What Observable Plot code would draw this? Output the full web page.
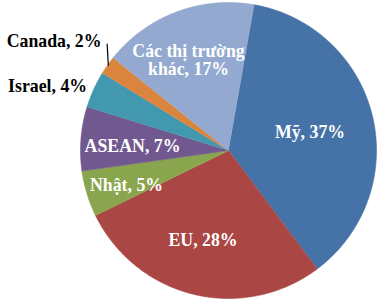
<!DOCTYPE html>
<html><head><meta charset="utf-8">
<script src="https://cdn.jsdelivr.net/npm/d3@7"></script>
<script src="https://cdn.jsdelivr.net/npm/@observablehq/plot@0.6"></script>
<style>
body{margin:0;background:#fff;}
svg{display:block}
svg text{font-family:"Liberation Serif","Times New Roman",serif !important;}
</style>
</head><body><div id="chart"></div>
<script>
// Data
const categories = ["Mỹ", "EU", "Nhật", "ASEAN", "Israel", "Canada", "Các thị trường khác"];
const shares = [37, 28, 5, 7, 4, 2, 17];
const labels = ["Mỹ, 37%", "EU, 28%", "Nhật, 5%", "ASEAN, 7%", "Israel, 4%", "Canada, 2%", "Các thị trường\nkhác, 17%"];
const colors = ["#4572A7", "#AA4643", "#89A54E", "#71588F", "#4198AF", "#DB843D", "#93A9CF"];

// Layout
const W = 385, H = 300, cx = 228, cy = 150, R = 148, startDeg = 10;
// [radius factor, angle nudge (deg), inside?]
const labelLayout = [
  [0.565, 0.5, true], [0.628, 2.3, true], [0.727, -1.6, true], [0.649, -2.2, true],
  [1.297, -4.9, false], [1.391, -3.1, false], [0.669, -3.2, true]
];

const rad = d => d * Math.PI / 180;
const arcs = d3.pie().sort(null).startAngle(rad(startDeg)).endAngle(rad(startDeg) + 2 * Math.PI)(shares);
const pt = (a, r) => [cx + r * Math.sin(a), cy - r * Math.cos(a)];

const polys = arcs.flatMap((a, i) => {
  const n = Math.max(2, Math.ceil((a.endAngle - a.startAngle) / (Math.PI / 360)));
  const ps = [{cat: categories[i], x: cx, y: cy}];
  for (let k = 0; k <= n; k++) {
    const t = a.startAngle + (a.endAngle - a.startAngle) * k / n;
    const [x, y] = pt(t, R);
    ps.push({cat: categories[i], x, y});
  }
  return ps;
});

const labelPts = arcs.map((a, i) => {
  const [f, nudge, inside] = labelLayout[i];
  const mid = (a.startAngle + a.endAngle) / 2 + rad(nudge);
  const [x, y] = pt(mid, f * R);
  return {text: labels[i], x, y, inside};
});

// Leader line for Canada
const ci = categories.indexOf("Canada");
const cMid = (arcs[ci].startAngle + arcs[ci].endAngle) / 2;
const [ex, ey] = pt(cMid, R - 1);
const leader = [{x1: ex, y1: ey, x2: ex - 1.3, y2: ey - 22}];

const font = {fontFamily: "Liberation Serif", fontSize: 17.8, fontWeight: "bold"};

const chart = Plot.plot({
  width: W, height: H, margin: 0,
  x: {domain: [0, W], range: [0, W], axis: null},
  y: {domain: [0, H], range: [0, H], axis: null},
  color: {domain: categories, range: colors},
  style: {background: "#fff", fontFamily: "Liberation Serif"},
  marks: [
    Plot.line(polys, {x: "x", y: "y", z: "cat", fill: "cat", stroke: "cat", strokeWidth: 0.6, curve: "linear"}),
    Plot.link(leader, {x1: "x1", y1: "y1", x2: "x2", y2: "y2", stroke: "#000", strokeWidth: 1.2}),
    Plot.text(labelPts.filter(d => d.inside), {x: "x", y: "y", text: "text", fill: "#fff", lineHeight: 1.05, ...font}),
    Plot.text(labelPts.filter(d => !d.inside), {x: "x", y: "y", text: "text", fill: "#000", ...font})
  ]
});
document.getElementById("chart").appendChild(chart);
</script>
</body></html>
